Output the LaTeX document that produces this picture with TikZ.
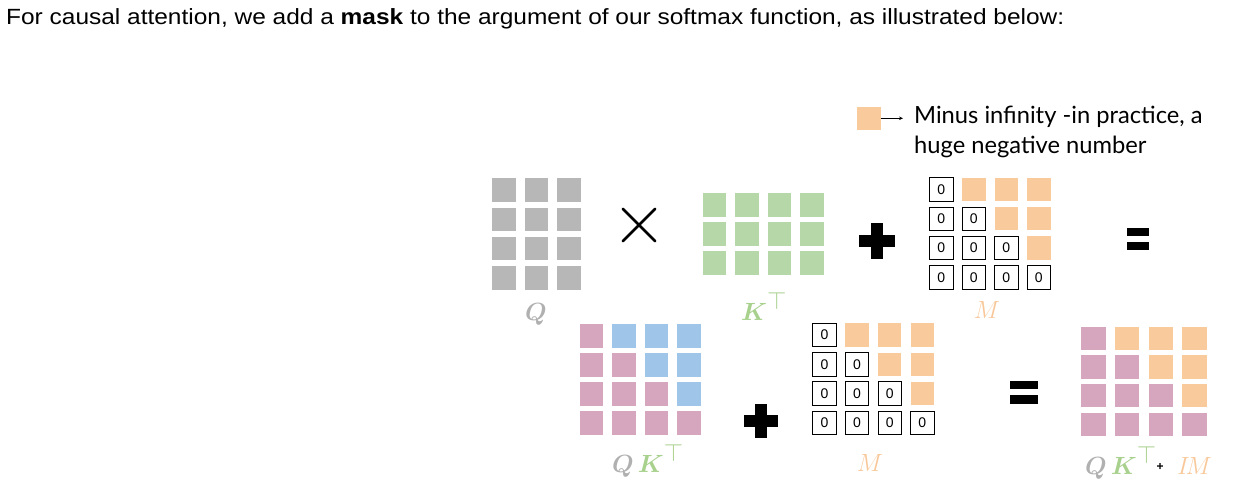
\documentclass[tikz,border=0pt]{standalone}
\usepackage{fontspec}
\usepackage{amsmath}
\setmainfont{Liberation Sans}
\newfontfamily\latofont{Lato}
\usetikzlibrary{arrows.meta}
\definecolor{cgray}{HTML}{B7B7B7}
\definecolor{cgreen}{HTML}{B6D7A8}
\definecolor{corange}{HTML}{F9CB9C}
\definecolor{cpink}{HTML}{D5A6BD}
\definecolor{cblue}{HTML}{9FC5E8}
\definecolor{lgray}{HTML}{B0B0B0}
\definecolor{lgreen}{HTML}{A9D18E}
\definecolor{lorange}{HTML}{F8C89A}
\tikzset{
  cell/.style={minimum width=23.5pt, minimum height=23.5pt, inner sep=0pt, outer sep=0pt, fill=#1},
  zerobox/.style={minimum width=23.5pt, minimum height=23.5pt, inner sep=0pt, outer sep=0pt, draw=black, line width=0.9pt, font=\fontsize{14}{14}\selectfont},
  matlabel/.style={font=\fontsize{27}{27}\selectfont, inner sep=0pt},
  opfill/.style={fill=black, draw=none},
}
\newcommand{\ktop}{\boldsymbol{K}^{\textstyle\top}}
\begin{document}
\begin{tikzpicture}[x=1pt,y=-1pt]
\useasboundingbox (0,0) rectangle (1243,495);
% top sentence
\node[anchor=base west, inner sep=0pt, font=\fontsize{22}{22}\selectfont] (title) at (6,24.3)
  {\scalebox{1.112}[1]{For causal attention, we add a \textbf{mask} to the argument of our softmax function, as illustrated below:}};
% legend
\node[cell=corange] (leg) at (869,118.3) {};
\node[anchor=base west, inner sep=0pt, font=\latofont\fontsize{23.7}{23.7}\selectfont] (legt1) at (914,123.3) {Minus infinity -in practice, a};
\node[anchor=base west, inner sep=0pt, font=\latofont\fontsize{23.7}{23.7}\selectfont] (legt2) at (914,153.3) {huge negative number};
\coordinate (legarr) at (903,118.3);
\draw[line width=0.8pt, -{Stealth[length=4pt,width=3.5pt]}] (leg.east) -- (legarr);
% Q
\foreach \r in {0,...,3}{\foreach \c in {0,...,2}{
  \node[cell=cgray] (q-\r-\c) at (504+32.5*\c,190+29.3*\r) {};}}
\node[matlabel, anchor=base, text=lgray] (qlab) at (536,320) {$\boldsymbol{Q}$};
% times
\node[minimum size=32pt, inner sep=0pt] (times) at (639,225) {};
\draw[line width=2.6pt, line cap=round] (times.north west) -- (times.south east) (times.north east) -- (times.south west);
% K^T
\foreach \r in {0,...,2}{\foreach \c in {0,...,3}{
  \node[cell=cgreen] (k-\r-\c) at (714.5+32.5*\c,204.8+29.1*\r) {};}}
\node[matlabel, anchor=base west, text=lgreen] (klab) at (741,320) {$\ktop$};
% plus top
\node[minimum size=35pt, inner sep=0pt] (plus1) at (877,241) {};
\fill[opfill] ([xshift=-6pt]plus1.north) rectangle ([xshift=6pt]plus1.south);
\fill[opfill] ([yshift=6pt]plus1.west) rectangle ([yshift=-6pt]plus1.east);
% M top
\foreach \r in {0,...,3}{\foreach \c in {0,...,3}{
  \pgfmathtruncatemacro{\up}{\c>\r ? 1 : 0}
  \ifnum\up=1
    \node[cell=corange] (m-\r-\c) at (941.3+32.5*\c,189.3+29.4*\r) {};
  \else
    \node[zerobox] (m-\r-\c) at (941.3+32.5*\c,189.3+29.4*\r) {0};
  \fi}}
\node[matlabel, anchor=base, text=lorange] (mlab) at (987,318) {$M$};
% equals top
\node[minimum width=21.6pt, minimum height=21.7pt, inner sep=0pt] (eq1) at (1137.5,239.2) {};
\fill[opfill] (eq1.north west) rectangle ([yshift=-7.7pt]eq1.north east);
\fill[opfill] ([yshift=8pt]eq1.south west) rectangle (eq1.south east);
% QK^T
\foreach \r in {0,...,3}{\foreach \c in {0,...,3}{
  \pgfmathtruncatemacro{\up}{\c>\r ? 1 : 0}
  \ifnum\up=1
    \node[cell=cblue] (p-\r-\c) at (591.3+32.5*\c,335.8+29.1*\r) {};
  \else
    \node[cell=cpink] (p-\r-\c) at (591.3+32.5*\c,335.8+29.1*\r) {};
  \fi}}
\node[matlabel, anchor=base west] (qklab) at (612,472) {$\textcolor{lgray}{\boldsymbol{Q}}\,\textcolor{lgreen}{\ktop}$};
% plus bottom
\node[minimum size=34pt, inner sep=0pt] (plus2) at (761,421) {};
\fill[opfill] ([xshift=-6pt]plus2.north) rectangle ([xshift=6pt]plus2.south);
\fill[opfill] ([yshift=6pt]plus2.west) rectangle ([yshift=-6pt]plus2.east);
% M bottom
\foreach \r in {0,...,3}{\foreach \c in {0,...,3}{
  \pgfmathtruncatemacro{\up}{\c>\r ? 1 : 0}
  \ifnum\up=1
    \node[cell=corange] (n-\r-\c) at (824.5+32.6*\c,335+29.3*\r) {};
  \else
    \node[zerobox] (n-\r-\c) at (824.5+32.6*\c,335+29.3*\r) {0};
  \fi}}
\node[matlabel, anchor=base, text=lorange] (nlab) at (870,471) {$M$};
% equals bottom
\node[minimum width=27.3pt, minimum height=22.6pt, inner sep=0pt] (eq2) at (1023.7,392) {};
\fill[opfill] (eq2.north west) rectangle ([yshift=-8.6pt]eq2.north east);
\fill[opfill] ([yshift=9pt]eq2.south west) rectangle (eq2.south east);
% result
\foreach \r in {0,...,3}{\foreach \c in {0,...,3}{
  \pgfmathtruncatemacro{\up}{\c>\r ? 1 : 0}
  \ifnum\up=1
    \node[cell=corange, minimum width=24.5pt] (r-\r-\c) at (1093.3+33.8*\c,338.3+28.7*\r) {};
  \else
    \node[cell=cpink, minimum width=24.5pt] (r-\r-\c) at (1093.3+33.8*\c,338.3+28.7*\r) {};
  \fi}}
\node[matlabel, anchor=base west] (rlab) at (1085,474) {$\textcolor{lgray}{\boldsymbol{Q}}\,\textcolor{lgreen}{\ktop}$};
\node[anchor=base, inner sep=0pt, font=\bfseries\fontsize{12}{12}\selectfont] (rplus) at (1160,470) {+};
\node[matlabel, anchor=base west, text=lorange] (rlab2) at (1177,474) {$I\!M$};
\end{tikzpicture}
\end{document}
